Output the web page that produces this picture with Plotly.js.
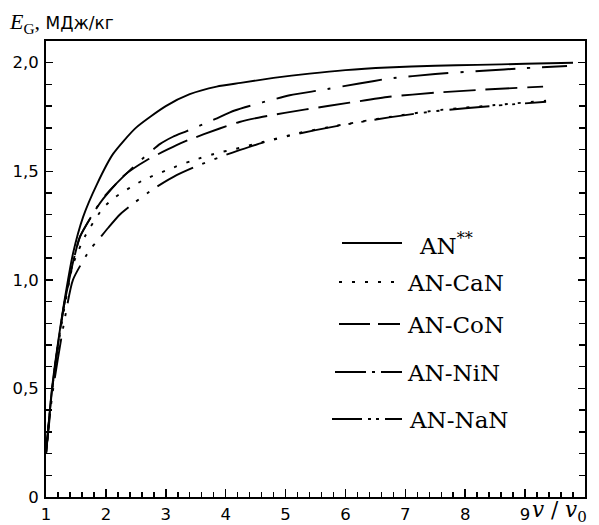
<!DOCTYPE html>
<html>
<head>
<meta charset="utf-8">
<script src="https://cdn.plot.ly/plotly-3.0.1.min.js"></script>
<style>html,body{margin:0;padding:0;background:#fff;}#chart{width:599px;height:525px;}</style>
</head>
<body>
<div id="chart"></div>
<script>
// ---- data ----
const seriesNames = ['AN<sup>**</sup>', 'AN-CaN', 'AN-CoN', 'AN-NiN', 'AN-NaN'];

const xAN = [1.0, 1.1, 1.2, 1.3, 1.45, 1.62, 1.85, 2.12, 2.5, 3.0, 3.4, 3.85, 4.25, 4.8, 5.4, 6.0, 6.7, 7.5, 8.2, 9.0, 9.8];
const yAN = [0.2, 0.5, 0.71, 0.89, 1.12, 1.29, 1.44, 1.58, 1.70, 1.80, 1.855, 1.89, 1.907, 1.93, 1.95, 1.966, 1.978, 1.986, 1.99, 1.995, 2.0];

const xCaN = [1.0, 1.1, 1.2, 1.3, 1.45, 1.65, 1.95, 2.15, 2.6, 3.04, 3.45, 3.9, 4.12, 4.62, 5.18, 5.85, 6.73, 7.5, 8.5, 9.35];
const yCaN = [0.2, 0.49, 0.69, 0.86, 1.07, 1.2, 1.33, 1.38, 1.456, 1.508, 1.55, 1.587, 1.6, 1.635, 1.674, 1.71, 1.75, 1.78, 1.805, 1.825];

const xCoN = [1.0, 1.1, 1.2, 1.3, 1.45, 1.57, 1.82, 1.96, 2.3, 2.68, 3.18, 3.37, 3.9, 4.23, 4.62, 5.34, 6.07, 6.73, 7.5, 8.3, 9.3];
const yCoN = [0.2, 0.49, 0.7, 0.88, 1.08, 1.2, 1.32, 1.375, 1.48, 1.551, 1.62, 1.643, 1.697, 1.727, 1.751, 1.785, 1.816, 1.843, 1.862, 1.876, 1.89];

const xNiN = [1.0, 1.1, 1.2, 1.3, 1.45, 1.57, 1.82, 1.96, 2.46, 2.9, 3.12, 3.35, 3.82, 4.15, 5.07, 5.57, 6.23, 6.73, 7.5, 8.3, 9.0, 9.7];
const yNiN = [0.2, 0.49, 0.7, 0.88, 1.08, 1.2, 1.32, 1.38, 1.52, 1.625, 1.659, 1.685, 1.74, 1.78, 1.85, 1.873, 1.904, 1.927, 1.948, 1.963, 1.975, 1.985];

const xNaN = [1.0, 1.1, 1.2, 1.3, 1.45, 1.73, 1.87, 2.04, 2.23, 2.46, 2.8, 3.18, 3.57, 4.0, 4.23, 4.62, 5.18, 5.85, 6.73, 7.5, 8.5, 9.35];
const yNaN = [0.2, 0.46, 0.64, 0.8, 1.0, 1.137, 1.183, 1.24, 1.30, 1.352, 1.42, 1.482, 1.53, 1.575, 1.597, 1.632, 1.671, 1.708, 1.748, 1.777, 1.802, 1.82];

const xTickVals = [1, 2, 3, 4, 5, 6, 7, 8, 9];
const xTickText = ['1', '2', '3', '4', '5', '6', '7', '8', '9'];
const yTickVals = [0, 0.5, 1.0, 1.5, 2.0];
const yTickText = ['0', '0,5', '1,0', '1,5', '2,0'];

// ---- styling ----
const dashes = ['solid', '3px,10px', '32px,10px', '40px,12px,3px,12px', '40px,10px,3px,10px,3px,10px'];
const legendDashes = ['solid', '3px,10px', '31px,8px', '31px,6px,3px,6px', '30px,6px,3px,5px,3px,6px'];
const xs = [xAN, xCaN, xCoN, xNiN, xNaN];
const ys = [yAN, yCaN, yCoN, yNiN, yNaN];

const traces = xs.map((x, i) => ({
  x: x, y: ys[i], type: 'scatter', mode: 'lines',
  name: seriesNames[i], showlegend: false,
  line: {color: '#000', width: 1.9, dash: dashes[i], shape: 'spline', smoothing: 0.6},
  hoverinfo: 'skip'
}));

// legend key layout (plot area spans 46..585 px horizontally, 41..497 px vertically)
const PL = 46, PW = 539, PB = 497, PH = 456;
const px2x = p => (p - PL) / PW;
const px2y = p => (PB - p) / PH;
const keyRows = [243, 282, 324, 372, 419];
const keyStart = [342, 339, 339, 335, 332];
const keyEnd = [402, 395, 400, 402, 402];
const keyText = [417, 405, 405, 405, 407];

const shapes = keyRows.map((r, i) => ({
  type: 'line', xref: 'paper', yref: 'paper',
  x0: px2x(keyStart[i]), x1: px2x(keyEnd[i]), y0: px2y(r), y1: px2y(r),
  line: {color: '#000', width: 1.9, dash: legendDashes[i]}
}));

const keyLabels = keyRows.map((r, i) => ({
  xref: 'paper', yref: 'paper', x: px2x(keyText[i]), y: px2y(r + 1),
  xanchor: 'left', yanchor: 'middle', showarrow: false, align: 'left',
  text: seriesNames[i], font: {family: 'DejaVu Serif', size: 23, color: '#000'}
}));

const axisFont = {family: 'DejaVu Sans', size: 16.5, color: '#000'};

const layout = {
  width: 599, height: 525,
  margin: {l: 46, r: 14, t: 41, b: 28, pad: 0},
  paper_bgcolor: '#fff', plot_bgcolor: '#fff',
  showlegend: false,
  xaxis: {
    range: [1, 10], showgrid: false, zeroline: false,
    showline: true, linecolor: '#000', linewidth: 2, mirror: true,
    tickmode: 'array', tickvals: xTickVals, ticktext: xTickText,
    ticks: 'inside', ticklen: 8, tickwidth: 1.5, tickcolor: '#000',
    tickfont: axisFont, ticklabelstandoff: 1,
    minor: {tickmode: 'linear', tick0: 1, dtick: 0.2, ticks: 'inside', ticklen: 5, tickwidth: 1.5, tickcolor: '#000', showgrid: false}
  },
  yaxis: {
    range: [0, 2.1], showgrid: false, zeroline: false,
    showline: true, linecolor: '#000', linewidth: 2, mirror: 'ticks',
    tickmode: 'array', tickvals: yTickVals, ticktext: yTickText,
    ticks: 'inside', ticklen: 7, tickwidth: 1.5, tickcolor: '#000',
    tickfont: axisFont, ticklabelstandoff: 2,
    minor: {tickmode: 'linear', tick0: 0, dtick: 0.1, ticks: 'inside', ticklen: 6, tickwidth: 1.5, tickcolor: '#000', showgrid: false}
  },
  shapes: shapes,
  annotations: [
    {
      xref: 'paper', yref: 'paper', x: -0.072, y: 1.04, xanchor: 'left', yanchor: 'middle',
      showarrow: false, align: 'left',
      text: '<span style="font-family:\'Liberation Serif\'; font-size:22px"><i>E</i><sub>G</sub>,</span>\u00a0МДж/кг',
      font: {family: 'DejaVu Sans', size: 17, color: '#000'}
    },
    {
      xref: 'paper', yref: 'paper', x: 0.899, y: -0.032, xanchor: 'left', yanchor: 'middle',
      showarrow: false, align: 'left', borderpad: 0,
      text: '<i>v</i> / <i>v</i><sub>0</sub>',
      font: {family: 'DejaVu Serif', size: 21.5, color: '#000'}
    }
  ].concat(keyLabels)
};

Plotly.newPlot('chart', traces, layout, {staticPlot: true, displayModeBar: false});
</script>
</body>
</html>
